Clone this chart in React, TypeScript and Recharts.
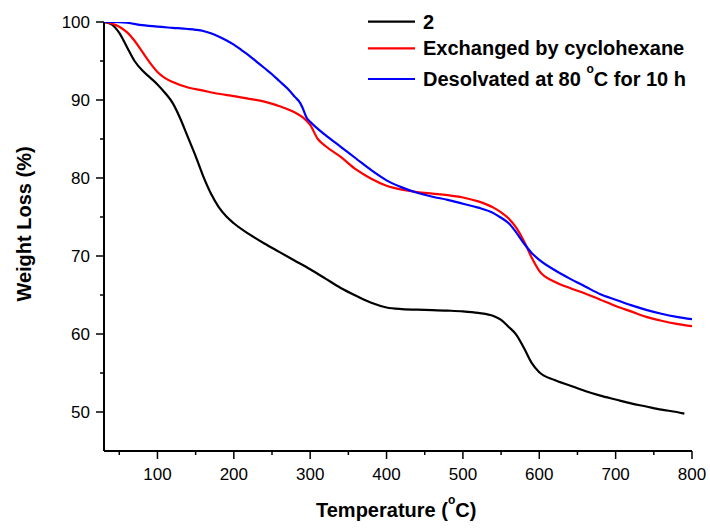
import { Line, LineChart, XAxis, YAxis } from "recharts";

// sample 2
const temp2 = [30, 40, 50, 60, 70, 80, 90, 100, 110, 120, 130, 140, 150, 160, 170, 180, 190, 200, 220, 240, 260, 280, 300, 320, 340, 360, 380, 400, 420, 450, 480, 500, 520, 540, 550, 560, 570, 580, 590, 600, 620, 640, 660, 680, 700, 720, 740, 760, 780, 790];
const weight2 = [100, 99.7, 98.6, 96.8, 95.0, 93.8, 92.9, 92.0, 90.9, 89.6, 87.6, 85.2, 82.8, 80.2, 78.0, 76.3, 75.1, 74.2, 72.8, 71.6, 70.5, 69.4, 68.3, 67.1, 65.9, 64.9, 64.0, 63.4, 63.2, 63.1, 63.0, 62.9, 62.7, 62.3, 61.8, 60.9, 59.9, 58.2, 56.3, 55.1, 54.1, 53.4, 52.7, 52.1, 51.6, 51.1, 50.7, 50.3, 50.0, 49.8];

// exchanged by cyclohexane
const tempEx = [30, 40, 50, 60, 70, 80, 90, 100, 110, 120, 140, 160, 180, 200, 220, 240, 260, 280, 290, 300, 310, 320, 340, 360, 380, 400, 420, 440, 460, 480, 500, 520, 540, 550, 560, 570, 580, 590, 600, 620, 640, 660, 680, 700, 720, 740, 760, 780, 800];
const weightEx = [100, 99.8, 99.4, 98.7, 97.6, 96.2, 94.8, 93.6, 92.8, 92.3, 91.6, 91.2, 90.8, 90.5, 90.15, 89.8, 89.2, 88.4, 87.8, 86.8, 85.0, 84.1, 82.7, 81.1, 79.9, 79.0, 78.5, 78.2, 78.0, 77.8, 77.5, 77.0, 76.2, 75.6, 74.8, 73.6, 71.9, 69.8, 68.1, 66.7, 65.9, 65.2, 64.4, 63.6, 62.9, 62.2, 61.7, 61.3, 61.0];

// desolvated at 80 C for 10 h
const tempDes = [30, 40, 60, 80, 100, 120, 140, 150, 160, 170, 180, 190, 200, 210, 220, 230, 240, 250, 260, 270, 280, 287, 290, 295, 300, 310, 320, 340, 360, 380, 400, 420, 440, 460, 480, 500, 520, 540, 550, 560, 570, 580, 590, 600, 620, 640, 660, 680, 700, 720, 740, 760, 780, 800];
const weightDes = [100, 100, 99.9, 99.6, 99.4, 99.25, 99.1, 99.0, 98.85, 98.55, 98.15, 97.65, 97.1, 96.4, 95.7, 94.9, 94.1, 93.3, 92.4, 91.5, 90.4, 89.6, 89.0, 87.8, 87.2, 86.3, 85.5, 84.0, 82.5, 81.0, 79.7, 78.8, 78.1, 77.6, 77.2, 76.7, 76.2, 75.5, 74.9, 74.2, 73.0, 71.6, 70.4, 69.5, 68.2, 67.1, 66.1, 65.1, 64.4, 63.7, 63.1, 62.6, 62.2, 61.9];

const xTicks = [50, 100, 150, 200, 250, 300, 350, 400, 450, 500, 550, 600, 650, 700, 750, 800];
const yTicks = [50, 55, 60, 65, 70, 75, 80, 85, 90, 95, 100];

const FONT = "Arial, 'Liberation Sans', sans-serif";

const toRows = (t: number[], w: number[]) => t.map((v, i) => ({ t: v, w: w[i] }));
const data2 = toRows(temp2, weight2);
const dataEx = toRows(tempEx, weightEx);
const dataDes = toRows(tempDes, weightDes);

function XTick(props: any) {
  const { x, y, payload } = props;
  const major = payload.value % 100 === 0;
  return (
    <g>
      <line x1={x} x2={x} y1={y} y2={y + (major ? 8 : 4)} stroke="#000" strokeWidth={1.5} />
      {major && (
        <text x={x} y={y + 29} textAnchor="middle" fontSize={17} fontFamily={FONT} fill="#000">
          {payload.value}
        </text>
      )}
    </g>
  );
}

function YTick(props: any) {
  const { x, y, payload } = props;
  const major = payload.value % 10 === 0;
  return (
    <g>
      <line x1={x} x2={x - (major ? 8 : 4)} y1={y} y2={y} stroke="#000" strokeWidth={1.5} />
      {major && (
        <text x={x - 14} y={y + 6} textAnchor="end" fontSize={17} fontFamily={FONT} fill="#000">
          {payload.value}
        </text>
      )}
    </g>
  );
}

const legendItems = [
  { name: "2", color: "#000000" },
  { name: "Exchanged by cyclohexane", color: "#ff0000" },
  { name: "Desolvated at 80 ", color: "#0000ff", sup: true },
];
const legendRows = [21.7, 48.3, 79];

export default function App() {
  return (
    <div style={{ position: "absolute", left: 0, top: 0, width: 710, height: 529, background: "#fff" }}>
      <LineChart width={710} height={529} margin={{ top: 22, right: 18, left: 44, bottom: 38 }}>
        <XAxis
          type="number"
          dataKey="t"
          domain={[30, 800]}
          ticks={xTicks}
          interval={0}
          allowDataOverflow
          height={40}
          tickSize={0}
          tickMargin={0}
          tickLine={false}
          tick={XTick}
          axisLine={{ stroke: "#000", strokeWidth: 2 }}
        />
        <YAxis
          type="number"
          dataKey="w"
          domain={[45, 100]}
          ticks={yTicks}
          interval={0}
          allowDataOverflow
          width={60}
          tickSize={0}
          tickMargin={0}
          tickLine={false}
          tick={YTick}
          axisLine={{ stroke: "#000", strokeWidth: 2 }}
        />
        <Line data={data2} dataKey="w" type="monotone" stroke="#000000" strokeWidth={2.2} dot={false} isAnimationActive={false} />
        <Line data={dataEx} dataKey="w" type="monotone" stroke="#ff0000" strokeWidth={2.2} dot={false} isAnimationActive={false} />
        <Line data={dataDes} dataKey="w" type="monotone" stroke="#0000ff" strokeWidth={2.2} dot={false} isAnimationActive={false} />
      </LineChart>
      <svg width={710} height={529} style={{ position: "absolute", left: 0, top: 0, pointerEvents: "none" }}>
        <g fontFamily={FONT} fontWeight="bold" fontSize={20} fill="#000">
          {legendItems.map((it, i) => (
            <g key={it.name}>
              <line x1={368} x2={415} y1={legendRows[i]} y2={legendRows[i]} stroke={it.color} strokeWidth={2.2} />
              <text x={423} y={legendRows[i] + 7}>
                {it.name}
                {it.sup && (
                  <>
                    <tspan fontSize={12} dy={-13}>o</tspan>
                    <tspan dy={13}>C for 10 h</tspan>
                  </>
                )}
              </text>
            </g>
          ))}
          <text x={316} y={517}>
            Temperature (<tspan fontSize={12} dy={-13}>o</tspan>
            <tspan dy={13}>C)</tspan>
          </text>
          <text x={31} y={224} textAnchor="middle" transform="rotate(-90, 31, 224)">
            Weight Loss (%)
          </text>
        </g>
      </svg>
    </div>
  );
}
